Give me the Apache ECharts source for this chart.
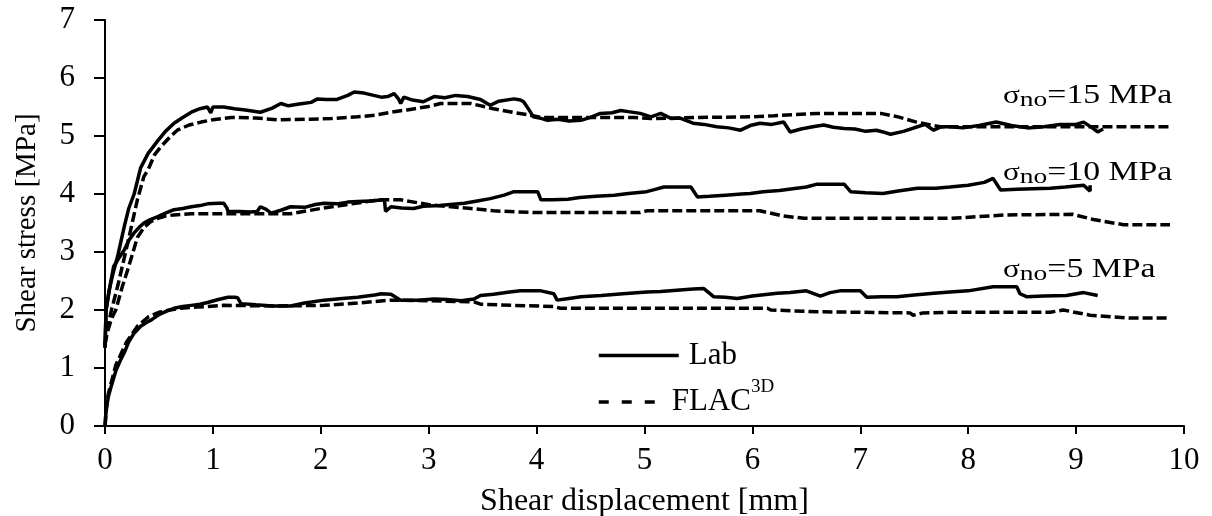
<!DOCTYPE html>
<html>
<head>
<meta charset="utf-8">
<script src="https://cdn.jsdelivr.net/npm/echarts@6/dist/echarts.min.js"></script>
<style>html,body{margin:0;padding:0;background:#fff}#c{width:1212px;height:516px}</style>
</head>
<body>
<div id="c"></div>
<script>
// Shear displacement [mm], shear stress [MPa]
const lab15 = [[0,1.35],[0.01,2.0],[0.04,2.35],[0.07,2.6],[0.12,2.95],[0.18,3.45],[0.22,3.75],[0.27,4.0],[0.33,4.45],[0.4,4.7],[0.49,4.92],[0.56,5.08],[0.64,5.22],[0.72,5.32],[0.8,5.41],[0.88,5.47],[0.95,5.5],[0.98,5.4],[1.0,5.5],[1.1,5.5],[1.2,5.47],[1.3,5.45],[1.44,5.41],[1.55,5.48],[1.63,5.56],[1.7,5.52],[1.8,5.55],[1.91,5.58],[1.97,5.64],[2.05,5.63],[2.15,5.63],[2.25,5.7],[2.31,5.76],[2.4,5.74],[2.49,5.7],[2.56,5.67],[2.62,5.68],[2.68,5.73],[2.72,5.64],[2.74,5.56],[2.77,5.67],[2.85,5.62],[2.95,5.59],[3.05,5.68],[3.15,5.66],[3.25,5.7],[3.36,5.68],[3.48,5.63],[3.57,5.53],[3.65,5.6],[3.79,5.64],[3.85,5.62],[3.88,5.59],[3.93,5.45],[3.97,5.33],[4.05,5.3],[4.1,5.27],[4.2,5.29],[4.3,5.26],[4.41,5.27],[4.5,5.32],[4.59,5.39],[4.7,5.4],[4.78,5.44],[4.85,5.42],[4.96,5.39],[5.06,5.33],[5.15,5.39],[5.25,5.3],[5.33,5.31],[5.45,5.22],[5.55,5.2],[5.67,5.16],[5.78,5.14],[5.89,5.1],[5.98,5.18],[6.07,5.22],[6.18,5.2],[6.29,5.24],[6.35,5.07],[6.45,5.12],[6.56,5.16],[6.66,5.19],[6.75,5.15],[6.85,5.13],[6.95,5.12],[7.05,5.08],[7.15,5.1],[7.21,5.07],[7.28,5.03],[7.4,5.08],[7.53,5.16],[7.6,5.2],[7.68,5.1],[7.75,5.16],[7.83,5.16],[7.95,5.14],[8.1,5.18],[8.26,5.24],[8.4,5.18],[8.55,5.14],[8.7,5.16],[8.85,5.2],[9.0,5.2],[9.07,5.24],[9.15,5.14],[9.2,5.07],[9.25,5.12]];
const flac15 = [[0,1.4],[0.01,1.57],[0.06,2.0],[0.12,2.43],[0.21,3.15],[0.3,3.9],[0.36,4.3],[0.4,4.42],[0.46,4.68],[0.52,4.82],[0.6,4.98],[0.67,5.1],[0.78,5.19],[0.89,5.24],[1.0,5.28],[1.17,5.32],[1.4,5.31],[1.6,5.28],[1.9,5.29],[2.1,5.3],[2.34,5.33],[2.5,5.36],[2.65,5.41],[2.8,5.45],[3.0,5.51],[3.11,5.56],[3.39,5.56],[3.6,5.47],[3.8,5.4],[3.94,5.36],[4.04,5.32],[4.5,5.32],[4.9,5.32],[5.06,5.3],[5.5,5.32],[5.98,5.33],[6.2,5.35],[6.6,5.39],[7.19,5.39],[7.35,5.33],[7.52,5.24],[7.74,5.16],[7.83,5.16],[8.5,5.16],[9.25,5.16],[9.87,5.16]];
const lab10 = [[0,1.35],[0.01,2.0],[0.04,2.35],[0.08,2.75],[0.13,2.9],[0.18,3.04],[0.22,3.2],[0.27,3.33],[0.32,3.43],[0.36,3.5],[0.42,3.56],[0.49,3.61],[0.56,3.67],[0.64,3.73],[0.72,3.75],[0.8,3.78],[0.88,3.8],[0.95,3.83],[1.05,3.84],[1.1,3.84],[1.13,3.76],[1.14,3.7],[1.25,3.7],[1.35,3.69],[1.41,3.7],[1.44,3.78],[1.49,3.74],[1.54,3.67],[1.63,3.72],[1.72,3.78],[1.85,3.77],[1.95,3.82],[2.03,3.84],[2.15,3.83],[2.25,3.86],[2.34,3.87],[2.45,3.88],[2.59,3.9],[2.6,3.7],[2.65,3.78],[2.75,3.76],[2.86,3.75],[2.95,3.79],[3.1,3.8],[3.2,3.82],[3.33,3.84],[3.45,3.88],[3.57,3.92],[3.7,3.98],[3.79,4.04],[3.9,4.04],[4.01,4.04],[4.04,3.9],[4.15,3.9],[4.29,3.91],[4.4,3.94],[4.55,3.96],[4.72,3.98],[4.85,4.01],[5.02,4.04],[5.1,4.08],[5.18,4.12],[5.3,4.12],[5.43,4.12],[5.49,3.95],[5.6,3.96],[5.75,3.98],[5.9,4.0],[5.98,4.01],[6.1,4.04],[6.25,4.06],[6.41,4.1],[6.5,4.12],[6.6,4.17],[6.85,4.17],[6.91,4.04],[7.05,4.02],[7.21,4.01],[7.35,4.05],[7.53,4.1],[7.7,4.1],[7.83,4.12],[8.0,4.15],[8.15,4.2],[8.23,4.27],[8.3,4.07],[8.45,4.08],[8.6,4.09],[8.76,4.1],[8.9,4.12],[9.07,4.15],[9.13,4.05],[9.13,4.15]];
const flac10 = [[0,1.4],[0.02,1.6],[0.06,1.85],[0.1,2.0],[0.16,2.4],[0.22,2.75],[0.3,3.25],[0.36,3.42],[0.42,3.52],[0.49,3.58],[0.56,3.62],[0.64,3.64],[0.8,3.66],[1.0,3.66],[1.72,3.66],[2.03,3.76],[2.43,3.87],[2.56,3.9],[2.74,3.9],[3.02,3.81],[3.39,3.75],[3.6,3.71],[3.97,3.68],[4.96,3.68],[5.02,3.71],[6.07,3.71],[6.29,3.62],[6.48,3.58],[7.83,3.58],[8.36,3.64],[8.97,3.65],[9.16,3.56],[9.44,3.47],[9.87,3.47]];
const lab5 = [[0,0],[0.005,0.1],[0.01,0.25],[0.03,0.5],[0.06,0.7],[0.1,0.95],[0.14,1.12],[0.18,1.27],[0.22,1.45],[0.27,1.6],[0.33,1.72],[0.38,1.78],[0.43,1.83],[0.5,1.92],[0.57,1.98],[0.64,2.03],[0.72,2.06],[0.8,2.08],[0.88,2.1],[0.95,2.13],[1.05,2.18],[1.14,2.22],[1.2,2.22],[1.23,2.21],[1.26,2.11],[1.4,2.09],[1.55,2.07],[1.72,2.07],[1.85,2.12],[2.03,2.17],[2.2,2.2],[2.34,2.22],[2.5,2.26],[2.56,2.28],[2.65,2.27],[2.74,2.17],[2.9,2.17],[3.05,2.19],[3.17,2.18],[3.3,2.16],[3.42,2.19],[3.48,2.25],[3.6,2.27],[3.75,2.31],[3.85,2.33],[4.04,2.33],[4.16,2.28],[4.19,2.17],[4.3,2.2],[4.41,2.23],[4.6,2.25],[4.8,2.28],[5.02,2.31],[5.15,2.32],[5.3,2.34],[5.45,2.36],[5.55,2.37],[5.64,2.23],[5.75,2.22],[5.86,2.2],[6.0,2.24],[6.23,2.29],[6.35,2.3],[6.5,2.33],[6.63,2.24],[6.72,2.3],[6.81,2.33],[7.0,2.33],[7.06,2.22],[7.2,2.23],[7.34,2.23],[7.5,2.26],[7.68,2.29],[7.83,2.31],[8.0,2.33],[8.23,2.4],[8.45,2.4],[8.48,2.28],[8.54,2.23],[8.7,2.24],[8.91,2.25],[9.07,2.3],[9.2,2.25]];
const flac5 = [[0,0],[0.01,0.3],[0.03,0.55],[0.1,1.05],[0.2,1.45],[0.3,1.72],[0.4,1.88],[0.5,1.96],[0.6,2.0],[0.7,2.03],[0.85,2.05],[1.1,2.08],[1.6,2.07],[2.03,2.08],[2.34,2.12],[2.65,2.17],[3.0,2.16],[3.42,2.14],[3.48,2.1],[3.79,2.08],[4.16,2.06],[4.22,2.03],[5.33,2.03],[6.14,2.03],[6.17,2.0],[6.6,1.97],[7.46,1.95],[7.49,1.91],[7.58,1.95],[7.83,1.96],[8.76,1.96],[8.88,2.0],[9.13,1.91],[9.5,1.86],[9.87,1.86]];
const stressLabels = ['15', '10', '5'];

const FONT = 'Liberation Serif';
const chart = echarts.init(document.getElementById('c'), null, {renderer: 'canvas'});
const solid = {color: '#000', width: 3.5, type: 'solid'};
const dashed = {color: '#000', width: 3.5, type: [10, 4]};
function ser(name, data, ls) {
  return {name, type: 'line', data, symbol: 'none', showSymbol: false, lineStyle: ls, itemStyle: {color: '#000'}, animation: false, silent: true, z: 3};
}
const annTops = [82, 159, 256];
chart.setOption({
  backgroundColor: '#fff',
  animation: false,
  grid: {left: 105, right: 28, top: 20, bottom: 90, containLabel: false, outerBoundsMode: 'none'},
  xAxis: {
    type: 'value', min: 0, max: 10, interval: 1,
    name: 'Shear displacement [mm]', nameLocation: 'middle', nameGap: 60,
    nameTextStyle: {fontFamily: FONT, fontSize: 32, color: '#000'},
    axisLine: {onZero: false, lineStyle: {color: '#000', width: 2}},
    axisTick: {show: true, inside: false, length: 8, lineStyle: {color: '#000', width: 2}},
    axisLabel: {fontFamily: FONT, fontSize: 31, color: '#000', margin: 19},
    splitLine: {show: false}
  },
  yAxis: {
    type: 'value', min: 0, max: 7, interval: 1,
    name: 'Shear stress [MPa]', nameLocation: 'middle', nameGap: 63,
    nameTextStyle: {fontFamily: FONT, fontSize: 29, color: '#000'},
    axisLine: {show: true, onZero: false, lineStyle: {color: '#000', width: 2}},
    axisTick: {show: true, inside: false, length: 11, lineStyle: {color: '#000', width: 2}},
    axisLabel: {fontFamily: FONT, fontSize: 31, color: '#000', margin: 30},
    splitLine: {show: false}
  },
  legend: [
    {data: ['Lab'], left: 597, top: 340, padding: 0, itemWidth: 80, itemHeight: 14,
     itemStyle: {opacity: 0},
     lineStyle: {width: 3.5, color: '#000', type: 'solid'},
     textStyle: {fontFamily: FONT, fontSize: 31, color: '#000', padding: [0, 0, 0, 5]}},
    {data: ['FLAC3D'], left: 597, top: 378, padding: 0, itemWidth: 60, itemHeight: 14,
     itemStyle: {opacity: 0},
     lineStyle: {width: 3.5, color: '#000', type: [10, 13]},
     formatter: () => '{m|FLAC}{s|3D}',
     textStyle: {fontFamily: FONT, color: '#000', padding: [0, 0, 0, 8],
       rich: {m: {fontFamily: FONT, fontSize: 31, lineHeight: 48, color: '#000'},
              s: {fontFamily: FONT, fontSize: 19, lineHeight: 19, verticalAlign: 'top', color: '#000'}}}}
  ],
  graphic: stressLabels.map((v, i) => ({
    type: 'text', x: 1003, y: annTops[i], scaleX: 1.25, scaleY: 1, silent: true,
    style: {
      text: '{g|σ}{b|no}{m|=' + v + ' MPa}', align: 'left', verticalAlign: 'top',
      rich: {
        g: {fontFamily: FONT, fontSize: 25, lineHeight: 25, padding: [2, 0, 0, 0], verticalAlign: 'top', fill: '#000'},
        b: {fontFamily: FONT, fontSize: 22, lineHeight: 22, padding: [7, 0, 0, 0], verticalAlign: 'top', fill: '#000'},
        m: {fontFamily: FONT, fontSize: 27, lineHeight: 27, verticalAlign: 'top', fill: '#000'}
      }
    }
  })),
  series: [
    ser('Lab', lab15, solid), ser('FLAC3D', flac15, dashed),
    ser('Lab', lab10, solid), ser('FLAC3D', flac10, dashed),
    ser('Lab', lab5, solid), ser('FLAC3D', flac5, dashed)
  ]
});
</script>
</body>
</html>
